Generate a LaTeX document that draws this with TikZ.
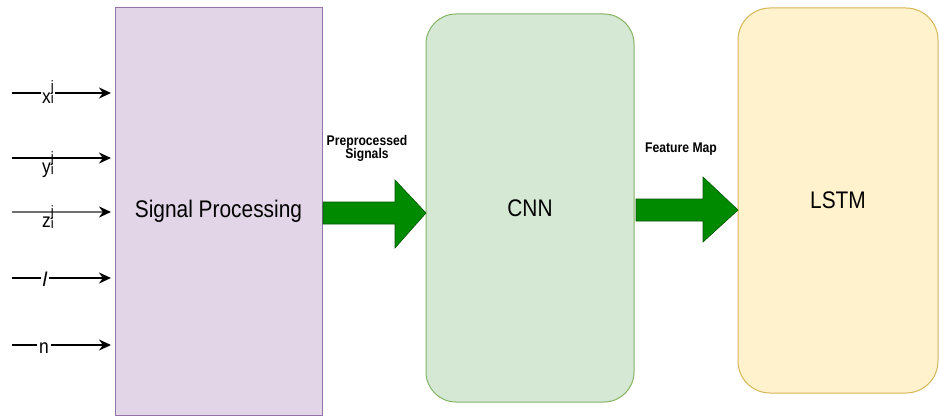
\documentclass[tikz,border=0pt]{standalone}
\usepackage{fontspec}
\usepackage{graphicx}
\setmainfont{Liberation Sans}
\usetikzlibrary{arrows.meta}
\definecolor{purpfill}{HTML}{E1D5E7}
\definecolor{purpdraw}{HTML}{9673A6}
\definecolor{grnfill}{HTML}{D5E8D4}
\definecolor{grndraw}{HTML}{82B366}
\definecolor{yelfill}{HTML}{FFF2CC}
\definecolor{yeldraw}{HTML}{D6B656}
\definecolor{arrfill}{HTML}{008A00}
\definecolor{arrdraw}{HTML}{005700}
\definecolor{greyline}{HTML}{707070}
\newcommand{\cond}[1]{\scalebox{0.87}[1]{#1}}
\tikzset{
  box/.style={draw, line width=1pt, font=\fontsize{24}{28}\selectfont, inner sep=0pt},
  inarrow/.style={line width=1.8pt, -{Stealth[length=12pt,width=11pt]}},
  inlabel/.style={inner sep=1pt, font=\fontsize{20}{22}\selectfont, anchor=base},
  blockarrow/.style={fill=arrfill, draw=arrdraw, line width=0.6pt, line join=miter},
  arrlabel/.style={font=\bfseries\fontsize{14}{16}\selectfont}
}
\newcommand{\supsub}[3]{#1\makebox[0pt][l]{\raisebox{0.55em}{\fontsize{15}{16}\selectfont #2}}\raisebox{-0.05em}{\fontsize{15}{16}\selectfont #3}}
\begin{document}
\begin{tikzpicture}[x=1pt,y=-1pt]
\useasboundingbox (0,0) rectangle (939,417);
% boxes
\node[box, fill=purpfill, draw=purpdraw, minimum width=207pt, minimum height=407pt] (sp) at (218.5,211.5) {\cond{Signal Processing}};
\node[box, fill=grnfill, draw=grndraw, rounded corners=30pt, minimum width=208pt, minimum height=388pt] (cnn) at (530,208) {\cond{CNN}};
\node[box, fill=yelfill, draw=yeldraw, rounded corners=32pt, minimum width=200pt, minimum height=385pt] (lstm) at (838,200.5) {\cond{LSTM}};
% inputs
\coordinate (i1) at (12,93);
\coordinate (i2) at (12,158);
\coordinate (i3) at (12,212);
\coordinate (i4) at (12,278);
\coordinate (i5) at (12,345);
\coordinate (t1) at (111,93);
\coordinate (t2) at (111,158);
\coordinate (t3) at (111,212);
\coordinate (t4) at (111,278);
\coordinate (t5) at (111,345);
\draw[inarrow] (i1) -- (t1);
\draw[inarrow] (i2) -- (t2);
\draw[inarrow, greyline, -{Stealth[length=12pt,width=11pt,color=black]}] (i3) -- (t3);
\draw[inarrow] (i4) -- (t4);
\draw[inarrow] (i5) -- (t5);
\node[inlabel, fill=white] (lx) at (48,103) {\cond{\supsub{x}{j}{i}}};
\node[inlabel] (ly) at (48,173) {\cond{\supsub{y}{j}{i}}};
\node[inlabel] (lz) at (48,227) {\cond{\supsub{z}{j}{i}}};
\node[inlabel, fill=white, inner sep=2pt] (ll) at (45,286) {\textit{l}};
\node[inlabel, fill=white, inner sep=2pt] (ln) at (44,353) {\cond{n}};
% block arrows
\coordinate (a1s) at (323,213);
\coordinate (a1t) at (426,213);
\draw[blockarrow] (a1s) ++(0,-11) -- ++(72,0) -- ++(0,-22) -- (a1t) -- ++(-31,35) -- ++(0,-24) -- ++(-72,0) -- cycle;
\coordinate (a2s) at (636,210);
\coordinate (a2t) at (738,210);
\draw[blockarrow] (a2s) ++(0,-11) -- ++(67,0) -- ++(0,-22) -- (a2t) -- ++(-35,32) -- ++(0,-21) -- ++(-67,0) -- cycle;
\node[arrlabel] (lab1) at (367,149) {\cond{\begin{tabular}{@{}c@{}}Preprocessed\\[-3pt]Signals\end{tabular}}};
\node[arrlabel] (lab2) at (681,149) {\cond{Feature Map}};
\end{tikzpicture}
\end{document}
